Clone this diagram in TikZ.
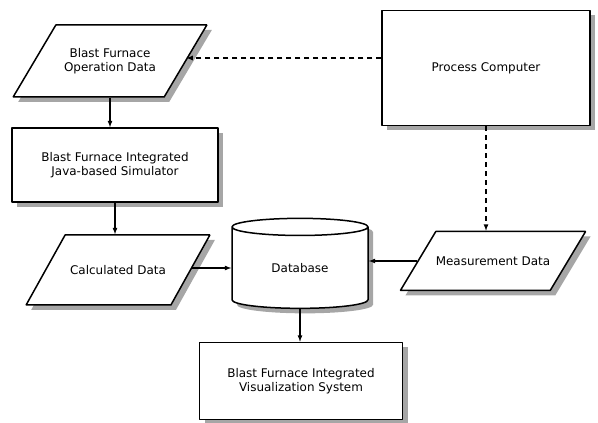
\documentclass[tikz,border=0pt]{standalone}
\usepackage{fontspec}
\setmainfont{DejaVu Sans}
\usetikzlibrary{shapes.geometric,shadows}
\begin{document}
\begin{tikzpicture}[>=latex,line join=bevel,
  every node/.style={font=\fontsize{12}{13.5}\selectfont,align=center},
  shade/.style={drop shadow={shadow xshift=5bp,shadow yshift=-5bp,fill=black!35,opacity=1}},
  procbox/.style={draw,line width=1.5bp,fill=white,shade,inner sep=0pt},
  databox/.style={trapezium,trapezium left angle=63,trapezium right angle=117,
    trapezium stretches=true,draw,line width=1.5bp,fill=white,shade,
    inner xsep=0pt,inner ysep=#1},
  storebox/.style={cylinder,shape border rotate=90,aspect=0.3,draw,line width=1.5bp,
    fill=white,shade,inner sep=0pt},
  flow/.style={black,->,line width=1.2bp},
  link/.style={flow,dash pattern=on 5bp off 4bp},
  ]
\useasboundingbox (0bp,0bp) rectangle (598bp,423bp);
%%
\node (op_data) at (110bp,362bp) [databox=23bp,minimum width=194bp,minimum height=72bp] {Blast Furnace\\Operation Data};
  \node (simulator) at (115bp,258bp) [procbox,minimum width=206bp,minimum height=74bp] {Blast Furnace Integrated\\Java-based Simulator};
  \node (calc_data) at (118bp,153bp) [databox=30bp,minimum width=184bp,minimum height=70bp] {Calculated Data};
  \node (database) at (300bp,155bp) [storebox,minimum width=136bp,minimum height=90bp] {Database};
  \node (meas_data) at (493bp,162bp) [databox=25bp,trapezium left angle=59,trapezium right angle=121,
    minimum width=183bp,minimum height=59bp] {Measurement Data};
  \node (process_pc) at (486bp,355bp) [procbox,minimum width=208bp,minimum height=115bp] {Process Computer};
  \node (vis_system) at (301bp,42bp) [procbox,minimum width=203bp,minimum height=77bp] {Blast Furnace Integrated\\Visualization System};
%
  \draw [flow] (op_data.south) -- (op_data.south |- simulator.north);
  \draw [flow] (simulator.south) -- (simulator.south |- calc_data.north);
  \draw [flow] (database.west -| calc_data.east) -- (database.west);
  \draw [flow] (meas_data.west) -- (meas_data.west -| database.east);
  \draw [flow] (database.south) -- (database.south |- vis_system.north);
  \draw [link] ([yshift=10bp]process_pc.west) -- ([yshift=10bp]process_pc.west -| op_data.east);
  \draw [link] (process_pc.south) -- (process_pc.south |- meas_data.north);
%
\end{tikzpicture}
\end{document}
